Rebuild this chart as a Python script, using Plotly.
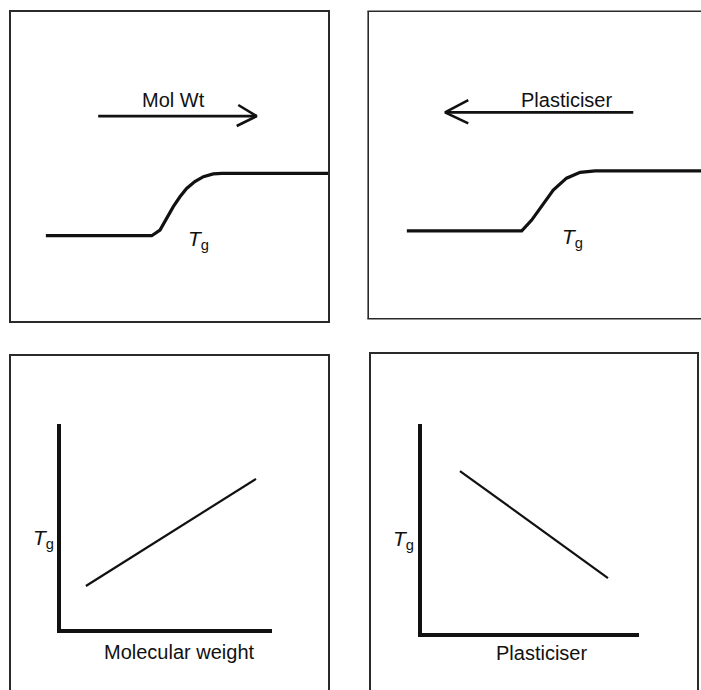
import plotly.graph_objects as go

W, H = 701, 690

# ---------------- data (arbitrary schematic units, 0-100 per panel) ----------------
# Top-left: modulus step vs temperature, shifted by molecular weight
mw_curve_x = [11.0, 44.4, 47.0, 49.1, 51.2, 53.3, 55.4, 58.0, 60.7, 63.8, 66.5, 100.0]
mw_curve_y = [27.6, 27.6, 29.4, 33.2, 37.0, 40.2, 42.9, 45.1, 46.7, 47.6, 47.8, 47.8]
mw_arrow_x = [27.5, 77.5, None, 71.7, 77.5, 71.2]
mw_arrow_y = [66.3, 66.3, None, 69.9, 66.3, 63.1]

# Top-right: modulus step vs temperature, shifted by plasticiser
pl_curve_x = [11.4, 46.0, 49.0, 52.0, 55.5, 59.5, 63.6, 68.1, 100.0]
pl_curve_y = [28.5, 28.5, 32.0, 36.4, 41.8, 45.7, 47.6, 48.1, 48.1]
pl_arrow_x = [79.6, 22.9, None, 29.9, 22.9, 29.9]
pl_arrow_y = [67.2, 67.2, None, 71.2, 67.2, 63.6]

# Bottom-left: Tg vs molecular weight
mw_line_x = [11.8, 92.4]
mw_line_y = [21.0, 73.2]

# Bottom-right: Tg vs plasticiser
pl_line_x = [17.5, 85.7]
pl_line_y = [77.5, 26.3]

labels = {
    "mw_arrow": "Mol Wt",
    "pl_arrow": "Plasticiser",
    "tg": "<i>T</i><sub>g</sub>",
    "mw_axis": "Molecular weight",
    "pl_axis": "Plasticiser",
}

# ---------------- helpers ----------------
def px(x):
    return x / W

def py(y):
    return 1 - y / H

FONT = dict(family="Liberation Sans, Arial, sans-serif", size=20, color="#111111")
TG_FONT = dict(family="Liberation Sans, Arial, sans-serif", size=21, color="#111111")
FRAME = "#2a2a2a"

def hidden(**kw):
    d = dict(showgrid=False, zeroline=False, showticklabels=False, ticks="",
             fixedrange=True)
    d.update(kw)
    return d

fig = go.Figure()

line_style = dict(color="#111111", width=3.2)

# Top-left panel (x, y)
fig.add_trace(go.Scatter(x=mw_curve_x, y=mw_curve_y, mode="lines",
                         line=line_style, xaxis="x", yaxis="y", hoverinfo="skip"))
fig.add_trace(go.Scatter(x=mw_arrow_x, y=mw_arrow_y, mode="lines",
                         line=dict(color="#111111", width=2.6), xaxis="x", yaxis="y",
                         hoverinfo="skip"))
# Top-right panel (x2, y2)
fig.add_trace(go.Scatter(x=pl_curve_x, y=pl_curve_y, mode="lines",
                         line=line_style, xaxis="x2", yaxis="y2", hoverinfo="skip"))
fig.add_trace(go.Scatter(x=pl_arrow_x, y=pl_arrow_y, mode="lines",
                         line=dict(color="#111111", width=2.6), xaxis="x2", yaxis="y2",
                         hoverinfo="skip"))
# Bottom frames (x3,y3) and (x5,y5) — empty traces so the frames render
fig.add_trace(go.Scatter(x=[], y=[], xaxis="x3", yaxis="y3", hoverinfo="skip"))
fig.add_trace(go.Scatter(x=[], y=[], xaxis="x5", yaxis="y5", hoverinfo="skip"))
# Bottom-left inner axes (x4, y4)
fig.add_trace(go.Scatter(x=mw_line_x, y=mw_line_y, mode="lines",
                         line=dict(color="#111111", width=2.2), xaxis="x4", yaxis="y4",
                         hoverinfo="skip"))
# Bottom-right inner axes (x6, y6)
fig.add_trace(go.Scatter(x=pl_line_x, y=pl_line_y, mode="lines",
                         line=dict(color="#111111", width=2.2), xaxis="x6", yaxis="y6",
                         hoverinfo="skip"))

frame_line = dict(showline=True, linecolor=FRAME, linewidth=1.6)
axis_line = dict(showline=True, linecolor="#111111", linewidth=3.6)

fig.update_layout(
    width=W, height=H,
    margin=dict(l=0, r=0, t=0, b=0),
    paper_bgcolor="white", plot_bgcolor="white",
    showlegend=False,
    font=FONT,
    # top-left frame
    xaxis=hidden(domain=[px(11), px(328)], range=[0, 100], anchor="y",
                 mirror=True, **frame_line),
    yaxis=hidden(domain=[py(321), py(12)], range=[0, 100], anchor="x",
                 mirror=True, **frame_line),
    # top-right panel (frame drawn with shapes, right side runs off the page)
    xaxis2=hidden(domain=[px(369), 1.0], range=[0, 100], anchor="y2", showline=False),
    yaxis2=hidden(domain=[py(318), py(12)], range=[0, 100], anchor="x2", showline=False),
    # bottom-left frame (bottom runs off the page)
    xaxis3=hidden(domain=[px(11), px(328)], range=[0, 1], anchor="y3",
                  side="top", **frame_line),
    yaxis3=hidden(domain=[0, py(356)], range=[0, 1], anchor="x3",
                  mirror=True, **frame_line),
    # bottom-left inner L axes
    xaxis4=hidden(domain=[px(61), px(272)], range=[0, 100], anchor="y4", **axis_line),
    yaxis4=hidden(domain=[py(629), py(424)], range=[0, 100], anchor="x4", **axis_line),
    # bottom-right frame
    xaxis5=hidden(domain=[px(371), px(697)], range=[0, 1], anchor="y5",
                  side="top", **frame_line),
    yaxis5=hidden(domain=[0, py(354)], range=[0, 1], anchor="x5",
                  mirror=True, **frame_line),
    # bottom-right inner L axes
    xaxis6=hidden(domain=[px(422), px(639)], range=[0, 100], anchor="y6", **axis_line),
    yaxis6=hidden(domain=[py(633), py(424)], range=[0, 100], anchor="x6", **axis_line),
)

# frame of the top-right panel: open on the right, where it leaves the page
frame_shape = dict(type="line", xref="paper", yref="paper",
                   line=dict(color=FRAME, width=1.6), layer="above")
fig.update_layout(shapes=[
    dict(frame_shape, x0=px(368.2), x1=px(368.2), y0=py(318.8), y1=py(11.2)),
    dict(frame_shape, x0=px(367.4), x1=1.05, y0=py(11.2), y1=py(11.2)),
    dict(frame_shape, x0=px(367.4), x1=1.05, y0=py(318.8), y1=py(318.8)),
])

# labels placed in each panel's own axis coordinates
ann = [
    dict(text=labels["mw_arrow"], x=51.4, y=71.5, xref="x", yref="y", font=FONT),
    dict(text=labels["tg"], x=59.0, y=26.3, xref="x", yref="y", font=TG_FONT),
    dict(text=labels["pl_arrow"], x=59.5, y=71.2, xref="x2", yref="y2", font=FONT),
    dict(text=labels["tg"], x=61.3, y=26.0, xref="x2", yref="y2", font=TG_FONT),
    dict(text=labels["tg"], x=0.101, y=0.452, xref="x3", yref="y3", font=TG_FONT),
    dict(text=labels["mw_axis"], x=0.533, y=0.114, xref="x3", yref="y3", font=FONT),
    dict(text=labels["tg"], x=0.101, y=0.446, xref="x5", yref="y5", font=TG_FONT),
    dict(text=labels["pl_axis"], x=0.5245, y=0.110, xref="x5", yref="y5", font=FONT),
]
for a in ann:
    a.update(showarrow=False, xanchor="center", yanchor="middle")
fig.update_layout(annotations=ann)

fig.write_html("out.html", config={"displayModeBar": False},
               post_script="document.body.style.margin='0';")
